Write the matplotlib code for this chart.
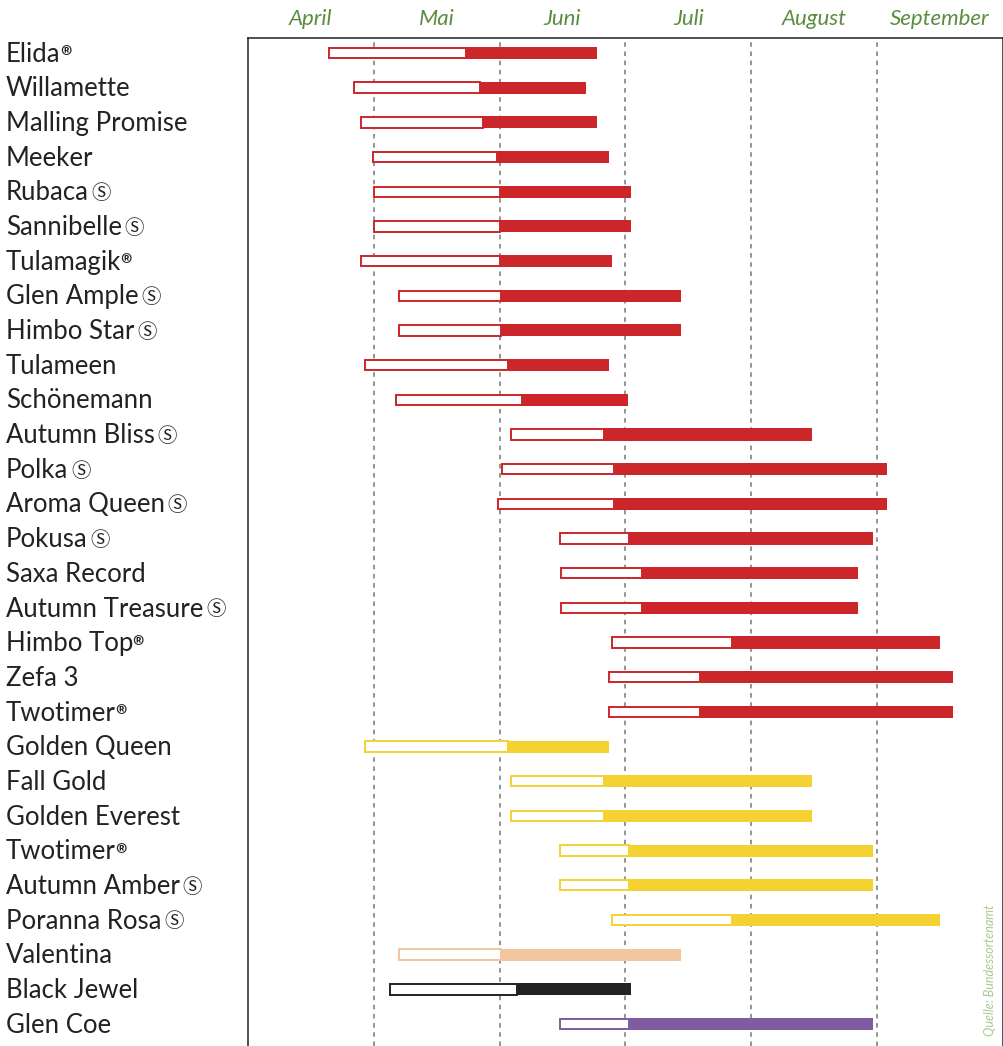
import matplotlib.pyplot as plt
from matplotlib.transforms import blended_transform_factory

# Sorten, Markenzeichen und Zeitraum (Monate ab 1. April)
names = ['Elida', 'Willamette', 'Malling Promise', 'Meeker', 'Rubaca', 'Sannibelle',
         'Tulamagik', 'Glen Ample', 'Himbo Star', 'Tulameen', 'Schönemann',
         'Autumn Bliss', 'Polka', 'Aroma Queen', 'Pokusa', 'Saxa Record',
         'Autumn Treasure', 'Himbo Top', 'Zefa 3', 'Twotimer', 'Golden Queen',
         'Fall Gold', 'Golden Everest', 'Twotimer', 'Autumn Amber', 'Poranna Rosa',
         'Valentina', 'Black Jewel', 'Glen Coe']
marks = ['®', '', '', '', 'Ⓢ', 'Ⓢ', '®', 'Ⓢ', 'Ⓢ', '', '', 'Ⓢ', 'Ⓢ', 'Ⓢ', 'Ⓢ', '',
         'Ⓢ', '®', '', '®', '', '', '', '®', 'Ⓢ', 'Ⓢ', '', '', '']
start = [0.64, 0.84, 0.90, 0.99, 1.00, 1.00, 0.90, 1.20, 1.20, 0.93, 1.18,
         2.09, 2.02, 1.99, 2.48, 2.49, 2.49, 2.89, 2.87, 2.87, 0.93,
         2.09, 2.09, 2.48, 2.48, 2.89, 1.20, 1.13, 2.48]
mid = [1.73, 1.84, 1.87, 1.98, 2.00, 2.00, 2.00, 2.01, 2.01, 2.07, 2.18,
       2.83, 2.91, 2.91, 3.03, 3.13, 3.13, 3.85, 3.59, 3.59, 2.07,
       2.83, 2.83, 3.03, 3.03, 3.85, 2.01, 2.14, 3.03]
end = [2.77, 2.69, 2.77, 2.87, 3.04, 3.04, 2.89, 3.44, 3.44, 2.87, 3.02,
       4.48, 5.08, 5.08, 4.97, 4.85, 4.85, 5.50, 5.60, 5.60, 2.87,
       4.48, 4.48, 4.97, 4.97, 5.50, 3.44, 3.04, 4.97]
groups = ['rot'] * 20 + ['gelb'] * 6 + ['orange', 'schwarz', 'violett']
months = ['April', 'Mai', 'Juni', 'Juli', 'August', 'September']

farben = {'rot': '#cc262b', 'gelb': '#f5d232', 'orange': '#f1c69f',
          'schwarz': '#232323', 'violett': '#7f5ba1'}
grau = '#777777'
gruen = '#5b8c3f'
font = ['Lato', 'DejaVu Sans']
markfont = ['Noto Sans CJK JP', 'DejaVu Sans']

fig = plt.figure(figsize=(10.04, 10.46), dpi=100)
ax = fig.add_axes([248 / 1004, 0, 755 / 1004, 1008 / 1046])

n = len(names)
for i in range(n):
    c = farben[groups[i]]
    ax.barh(i, mid[i] - start[i], left=start[i], height=0.30, color='white',
            edgecolor=c, linewidth=1.4, zorder=3)
    ax.barh(i, end[i] - mid[i], left=mid[i], height=0.35, color=c, linewidth=0, zorder=3)

for m in range(1, len(months)):
    ax.axvline(m, color=grau, lw=1.1, ls=(0, (3, 3)), zorder=1)

ax.set_xlim(0, len(months))
ax.set_ylim(28 + 22 / 34.68, -15 / 34.68)
ax.set_xticks([])
ax.set_yticks([])
ax.spines['bottom'].set_visible(False)
for s in ['left', 'top', 'right']:
    ax.spines[s].set_color('#222222')
    ax.spines[s].set_linewidth(1.1)

# Monatsnamen oben
for m, name in enumerate(months):
    ax.text(m + 0.5, 1 + 13 / 1008, name, transform=ax.get_xaxis_transform(),
            ha='center', va='baseline', fontsize=16, style='italic',
            color=gruen, family=font)

# Sortennamen links
tr = blended_transform_factory(fig.transFigure, ax.transData)
for i in range(n):
    t = ax.text(6 / 1004, i + 0.25, names[i], transform=tr, ha='left', va='baseline',
                fontsize=18.5, color='#222222', family=font, clip_on=False)
    if marks[i] == '®':
        ax.annotate(marks[i], xy=(1, 1), xycoords=t, xytext=(-0.5, -2.5),
                    textcoords='offset points', ha='left', va='top',
                    fontsize=16, fontweight='bold', color='#222222', family=markfont)
    elif marks[i]:
        ax.annotate(marks[i], xy=(1, 1), xycoords=t, xytext=(2, -2),
                    textcoords='offset points', ha='left', va='top',
                    fontsize=14, color='#222222', family=markfont)

fig.text(990 / 1004, 1 - 970 / 1046, 'Quelle: Bundessortenamt', rotation=90,
         ha='center', va='center', fontsize=9, style='italic', color='#a9c98f',
         family=font)

fig.savefig('out.png', dpi=100)
